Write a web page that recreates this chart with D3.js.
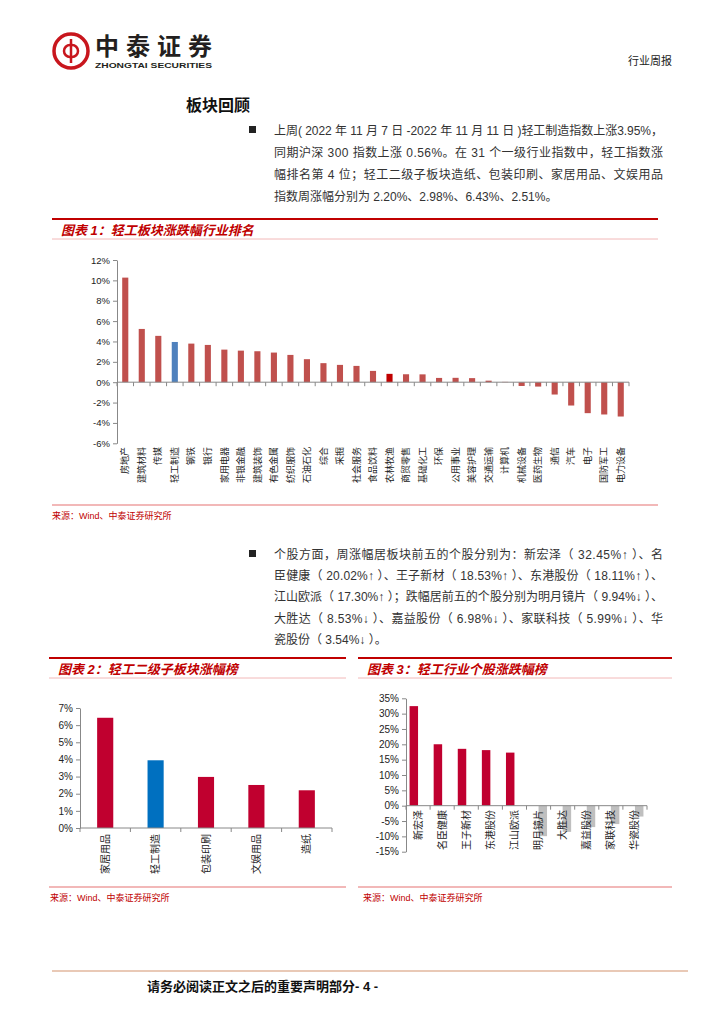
<!DOCTYPE html>
<html>
<head>
<meta charset="utf-8">
<script src="https://cdn.jsdelivr.net/npm/d3@7"></script>
<style>
  body { margin: 0; background: #fff; }
  svg text { font-family: "Liberation Sans", "Noto Sans CJK SC", sans-serif; }
</style>
</head>
<body>
<svg id="page" width="724" height="1024"></svg>
<script>
// ---- data ----
var industries = ['房地产', '建筑材料', '传媒', '轻工制造', '钢铁', '银行', '家用电器', '非银金融',
  '建筑装饰', '有色金属', '纺织服饰', '石油石化', '综合', '采掘', '社会服务', '食品饮料', '农林牧渔',
  '商贸零售', '基础化工', '环保', '公用事业', '美容护理', '交通运输', '计算机', '机械设备', '医药生物',
  '通信', '汽车', '电子', '国防军工', '电力设备'];
var industryChg = [10.27, 5.23, 4.55, 3.95, 3.79, 3.66, 3.20, 3.10, 3.04, 2.91, 2.68, 2.26, 1.87,
  1.70, 1.60, 1.11, 0.82, 0.78, 0.77, 0.42, 0.43, 0.40, 0.15, 0.03, -0.37, -0.43, -1.21, -2.29,
  -3.04, -3.17, -3.37];
var industryTicks = [-6, -4, -2, 0, 2, 4, 6, 8, 10, 12];

var subSectors = ['家居用品', '轻工制造', '包装印刷', '文娱用品', '造纸'];
var subSectorChg = [6.43, 3.95, 2.98, 2.51, 2.20];
var subSectorTicks = [0, 1, 2, 3, 4, 5, 6, 7];

var stocks = ['新宏泽', '名臣健康', '王子新材', '东港股份', '江山欧派', '明月镜片', '大胜达', '嘉益股份', '家联科技', '华瓷股份'];
var stockUp = [32.45, 20.02, 18.53, 18.11, 17.30, null, null, null, null, null];
var stockDown = [null, null, null, null, null, -9.94, -8.53, -6.98, -5.99, -3.54];
var stockTicks = [-15, -10, -5, 0, 5, 10, 15, 20, 25, 30, 35];

var para1 = [
  '上周( 2022 年 11 月 7 日 -2022 年 11 月 11 日 )轻工制造指数上涨3.95%，',
  '同期沪深 300 指数上涨 0.56%。在 31 个一级行业指数中，轻工指数涨',
  '幅排名第 4 位；轻工二级子板块造纸、包装印刷、家居用品、文娱用品',
  '指数周涨幅分别为 2.20%、2.98%、6.43%、2.51%。'
];
var para2 = [
  '个股方面，周涨幅居板块前五的个股分别为：新宏泽（ 32.45%↑ ）、名',
  '臣健康（ 20.02%↑ ）、王子新材（ 18.53%↑ ）、东港股份（ 18.11%↑ ）、',
  '江山欧派（ 17.30%↑ ）；跌幅居前五的个股分别为明月镜片（ 9.94%↓ ）、',
  '大胜达（ 8.53%↓ ）、嘉益股份（ 6.98%↓ ）、家联科技（ 5.99%↓ ）、华',
  '瓷股份（ 3.54%↓ ）。'
];

var svg = d3.select('#page');
var red = '#c00000';
var pink = '#f2b8b8';

// ---- header ----
var logo = svg.append('g').attr('transform', 'translate(71, 51)');
logo.append('circle').attr('r', 17).attr('fill', 'none').attr('stroke', '#c8161d').attr('stroke-width', 3.5);
logo.append('line').attr('x1', 0).attr('x2', 0).attr('y1', -12).attr('y2', 12)
  .attr('stroke', '#c8161d').attr('stroke-width', 2.5);
logo.append('path').attr('d', 'M-1,-6 A6,6 0 1,0 -1,6').attr('fill', 'none').attr('stroke', '#c8161d').attr('stroke-width', 2.5);
logo.append('path').attr('d', 'M1,-6 A6,6 0 1,1 1,6').attr('fill', 'none').attr('stroke', '#c8161d').attr('stroke-width', 2.5);

svg.append('text').attr('x', 95).attr('y', 55).attr('font-size', 24).attr('font-weight', 'bold')
  .attr('fill', '#231f20').attr('textLength', 117).attr('lengthAdjust', 'spacing')
  .style('font-family', '"Noto Sans CJK SC"').text('中泰证券');
svg.append('text').attr('x', 95).attr('y', 68).attr('font-size', 7.5).attr('font-weight', 'bold')
  .attr('fill', '#231f20').attr('textLength', 117).attr('lengthAdjust', 'spacingAndGlyphs')
  .text('ZHONGTAI SECURITIES');
svg.append('text').attr('x', 628).attr('y', 65).attr('font-size', 11).attr('fill', '#222')
  .text('行业周报');

// ---- text blocks ----
svg.append('text').attr('x', 186).attr('y', 111).attr('font-size', 16).attr('font-weight', 'bold')
  .attr('fill', '#111').text('板块回顾');

function paragraph(lines, top, step) {
  svg.append('rect').attr('x', 249).attr('y', top - 9).attr('width', 7).attr('height', 7).attr('fill', '#222');
  lines.forEach(function(s, i) {
    var t = svg.append('text').attr('x', 274).attr('y', top + i * step)
      .attr('font-size', 12).attr('fill', '#333').text(s);
    if (i < lines.length - 1) t.attr('textLength', 389).attr('lengthAdjust', 'spacing');
  });
}
paragraph(para1, 135, 22);
paragraph(para2, 559, 21.2);

// ---- figure frames ----
function frame(x0, x1, top, bottom, title, srcX) {
  svg.append('line').attr('x1', x0).attr('x2', x1).attr('y1', top).attr('y2', top)
    .attr('stroke', red).attr('stroke-width', 2);
  svg.append('text').attr('x', x0 + 9).attr('y', top + 16).attr('font-size', 13)
    .attr('font-weight', 'bold').attr('font-style', 'italic').attr('fill', red).text(title);
  svg.append('line').attr('x1', x0).attr('x2', x1).attr('y1', top + 20).attr('y2', top + 20)
    .attr('stroke', pink).attr('stroke-width', 1);
  svg.append('line').attr('x1', x0).attr('x2', x1).attr('y1', bottom).attr('y2', bottom)
    .attr('stroke', pink).attr('stroke-width', 2);
  svg.append('text').attr('x', srcX).attr('y', bottom + 14).attr('font-size', 9)
    .attr('fill', red).text('来源：Wind、中泰证券研究所');
}
frame(52, 658, 219, 505, '图表 1：轻工板块涨跌幅行业排名', 52);
frame(49, 346, 658, 887, '图表 2：轻工二级子板块涨幅榜', 50);
frame(358, 672, 658, 887, '图表 3：轻工行业个股涨跌幅榜', 363);

// ---- generic bar chart ----
function barChart(o) {
  var x = d3.scaleBand().domain(o.cats).range([o.x0, o.x1]).paddingInner(0).paddingOuter(0);
  var y = d3.scaleLinear().domain(o.domain).range([o.yBottom, o.yTop]);
  var g = svg.append('g');

  var yAxis = d3.axisLeft(y).tickValues(o.ticks).tickSize(4).tickSizeOuter(0)
    .tickPadding(3).tickFormat(function(d) { return d + '%'; });
  var ya = g.append('g').attr('transform', 'translate(' + o.x0 + ',0)').call(yAxis);
  ya.select('.domain').attr('stroke', '#888');
  ya.selectAll('.tick line').attr('stroke', '#888');
  ya.selectAll('.tick text').attr('font-size', o.tickFont).attr('fill', '#222')
    .style('font-family', '"Liberation Sans", Arial, sans-serif');

  o.series.forEach(function(s) {
    var sub = d3.scaleBand().domain(d3.range(o.series.length)).range([0, x.bandwidth()])
      .paddingInner(0).paddingOuter(o.outerPad);
    g.selectAll(null).data(o.cats.map(function(c, i) { return { c: c, v: s.values[i], i: i }; })
      .filter(function(d) { return d.v != null; }))
      .enter().append('rect')
      .attr('x', function(d) { return x(d.c) + sub(s.idx) + sub.bandwidth() * (1 - o.barFrac) / 2; })
      .attr('width', sub.bandwidth() * o.barFrac)
      .attr('y', function(d) { return y(Math.max(0, d.v)); })
      .attr('height', function(d) { return Math.abs(y(d.v) - y(0)); })
      .attr('fill', function(d) { return s.color(d); });
  });

  // category axis at zero
  var y0 = y(0);
  g.append('line').attr('x1', o.x0).attr('x2', o.x1).attr('y1', y0).attr('y2', y0).attr('stroke', '#888');
  d3.range(o.cats.length + 1).forEach(function(i) {
    var xx = o.x0 + i * x.step();
    g.append('line').attr('x1', xx).attr('x2', xx).attr('y1', y0).attr('y2', y0 + 4).attr('stroke', '#888');
  });

  g.selectAll(null).data(o.cats).enter().append('text')
    .attr('transform', function(d) {
      return 'translate(' + (x(d) + x.bandwidth() / 2) + ',' + o.labelY + ') rotate(-90)';
    })
    .attr('dy', '0.35em').attr('text-anchor', 'end')
    .attr('font-size', o.labelFont).attr('fill', '#222')
    .style('font-family', '"Noto Sans CJK SC"')
    .text(function(d) { return d; });
}

barChart({
  cats: industries, x0: 117, x1: 629, yTop: 260, yBottom: 443.3, domain: [-6, 12],
  ticks: industryTicks, tickFont: 9.5, labelFont: 9, labelY: 447, outerPad: 0, barFrac: 0.37,
  series: [{ idx: 0, values: industryChg, color: function(d) {
    if (d.c === '轻工制造') return '#4f81bd';
    if (d.c === '农林牧渔') return '#c00000';
    return '#c0504d';
  } }]
});

barChart({
  cats: subSectors, x0: 80, x1: 332, yTop: 708, yBottom: 828, domain: [0, 7],
  ticks: subSectorTicks, tickFont: 10, labelFont: 10, labelY: 834, outerPad: 0, barFrac: 0.32,
  series: [{ idx: 0, values: subSectorChg, color: function(d) {
    return d.c === '轻工制造' ? '#0070c0' : '#c0002f';
  } }]
});

barChart({
  cats: stocks, x0: 406, x1: 647, yTop: 698.3, yBottom: 851.7, domain: [-15, 35],
  ticks: stockTicks, tickFont: 10, labelFont: 10, labelY: 810, outerPad: 0.42, barFrac: 1,
  series: [
    { idx: 0, values: stockUp, color: function() { return '#c0002f'; } },
    { idx: 1, values: stockDown, color: function() { return '#bfbfbf'; } }
  ]
});

// ---- footer ----
svg.append('line').attr('x1', 52).attr('x2', 688).attr('y1', 971).attr('y2', 971)
  .attr('stroke', '#e9c9b6').attr('stroke-width', 2);
svg.append('text').attr('x', 147).attr('y', 991).attr('font-size', 13).attr('font-weight', 'bold')
  .attr('fill', '#111').text('请务必阅读正文之后的重要声明部分- 4 -');
</script>
</body>
</html>
